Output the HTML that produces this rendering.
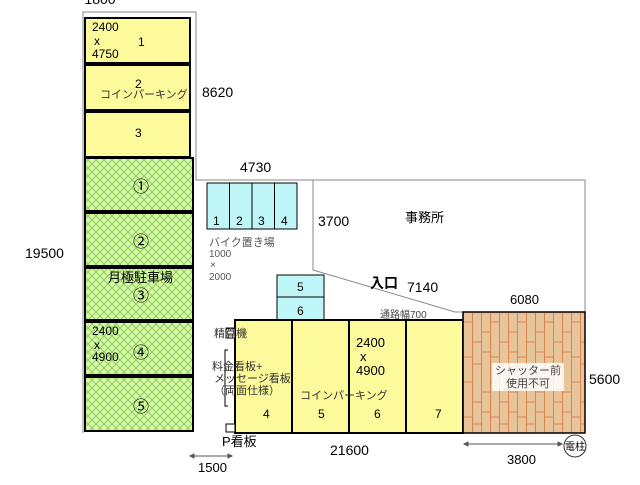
<!DOCTYPE html>
<html><head><meta charset="utf-8"><style>
html,body{margin:0;padding:0;background:#fff}
svg text{font-family:"Liberation Sans","Noto Sans CJK JP",sans-serif}
</style></head><body>
<svg width="640" height="480" viewBox="0 0 640 480" xmlns="http://www.w3.org/2000/svg">
<defs>
<pattern id="hx" width="8" height="8" patternUnits="userSpaceOnUse">
<rect width="8" height="8" fill="#d8f5b0"/>
<path d="M0 0L8 8M8 0L0 8" stroke="#7ccc3a" stroke-width="0.8"/>
</pattern>
<pattern id="wd" width="27" height="60" patternUnits="userSpaceOnUse" x="463" y="312">
<rect width="27" height="60" fill="#e8c49a"/>
<path d="M0.5 0V60M9.5 0V60M18.5 0V60M0 10H9M9 30H18M18 20H27M0 45H9M9 52H18M18 40H27" stroke="#d9743a" stroke-width="0.8"/>
</pattern>
</defs>
<g fill="none" stroke="#888" stroke-width="1">
<path d="M83 433V12H196V180H585V312"/>
<path d="M313 180V270L455 312H463"/>
</g>
<text x="100" y="4" font-size="14" text-anchor="middle">1800</text>
<g stroke="#000" stroke-width="2" fill="#fdfa9c">
<rect x="85" y="18" width="105" height="45"/>
<rect x="85" y="65" width="105" height="45"/>
<rect x="85" y="112" width="105" height="45"/>
</g>
<g stroke="#000" stroke-width="2" fill="url(#hx)">
<rect x="85" y="158" width="108" height="53"/>
<rect x="85" y="213" width="108" height="53"/>
<rect x="85" y="268" width="108" height="52"/>
<rect x="85" y="322" width="108" height="53"/>
<rect x="85" y="377" width="108" height="54"/>
</g>
<g font-size="12" fill="#000">
<text x="92" y="31">2400</text><text x="94" y="45">x</text><text x="92" y="58">4750</text>
<text x="138" y="46">1</text>
<text x="135" y="88">2</text>
<text x="100" y="98" font-size="11" fill="#333">コインパーキング</text>
<text x="135" y="137">3</text>
<g font-size="16" text-anchor="middle">
<text x="141" y="192">①</text>
<text x="141" y="247">②</text>
<text x="141" y="301">③</text>
<text x="141" y="358">④</text>
<text x="141" y="412">⑤</text>
</g>
<text x="108" y="282" font-size="13">月極駐車場</text>
<text x="92" y="335">2400</text><text x="94" y="349">x</text><text x="92" y="361">4900</text>
</g>
<text x="202" y="97" font-size="14">8620</text>
<text x="240" y="172" font-size="14">4730</text>
<text x="25" y="258" font-size="14">19500</text>
<g stroke="#000" stroke-width="1" fill="#bff6f8">
<rect x="207" y="183" width="22.5" height="46"/>
<rect x="229.5" y="183" width="22.5" height="46"/>
<rect x="252" y="183" width="22.5" height="46"/>
<rect x="274.5" y="183" width="22.5" height="46"/>
<rect x="277" y="275" width="47" height="22"/>
<rect x="277" y="297" width="47" height="23"/>
</g>
<g font-size="12"><text x="213" y="225">1</text><text x="236" y="225">2</text><text x="258" y="225">3</text><text x="281" y="225">4</text>
<text x="297" y="291">5</text><text x="297" y="315">6</text></g>
<g font-size="10" fill="#555"><text x="209" y="246" font-size="11">バイク置き場</text><text x="209" y="257">1000</text><text x="210" y="268">×</text><text x="209" y="280">2000</text></g>
<text x="318" y="226" font-size="14">3700</text>
<text x="405" y="222" font-size="13">事務所</text>
<text x="370" y="288" font-size="14" font-weight="bold">入口</text>
<text x="407" y="292" font-size="14">7140</text>
<text x="510" y="304" font-size="13">6080</text>
<text x="380" y="318" font-size="10" fill="#444">通路幅700</text>
<g stroke="#000" stroke-width="2" fill="#fdfa9c">
<rect x="235" y="320" width="57" height="113"/>
<rect x="292" y="320" width="57" height="113"/>
<rect x="349" y="320" width="57" height="113"/>
<rect x="406" y="320" width="57" height="113"/>
</g>
<rect x="463" y="312" width="122" height="121" fill="url(#wd)" stroke="#000" stroke-width="1.5"/>
<rect x="492" y="363" width="72" height="28" fill="#fff" opacity="0.85"/>
<text x="528" y="374" font-size="11" text-anchor="middle" fill="#444">シャッター前</text>
<text x="528" y="387" font-size="11" text-anchor="middle" fill="#444">使用不可</text>
<text x="589" y="384" font-size="14">5600</text>
<g font-size="12">
<text x="356" y="347" font-size="13">2400</text><text x="360" y="361" font-size="13">x</text><text x="356" y="375" font-size="13">4900</text>
<text x="263" y="418">4</text><text x="318" y="418">5</text><text x="374" y="418">6</text><text x="435" y="418">7</text>
<text x="300" y="399" font-size="11" fill="#333">コインパーキング</text>
</g>
<rect x="226" y="328" width="9" height="10" fill="#fff" stroke="#000"/>
<rect x="226" y="424" width="9" height="8" fill="#fff" stroke="#000"/>
<path d="M228 350h-3v56h3" fill="none" stroke="#000"/>
<g font-size="11" fill="#333">
<text x="214" y="337">精算機</text>
<text x="212" y="370">料金看板+</text>
<text x="214" y="382">メッセージ看板</text>
<text x="214" y="394">（両面仕様）</text>
</g>
<text x="222" y="446" font-size="13">P看板</text>
<text x="330" y="455" font-size="14">21600</text>
<g stroke="#555" fill="#555">
<path d="M190 456H232"/><path d="M190 456l4-2v4zM232 456l-4-2v4z"/>
<path d="M464 444H562"/><path d="M464 444l4-2v4zM562 444l-4-2v4z"/>
</g>
<text x="198" y="472" font-size="13">1500</text>
<text x="507" y="464" font-size="13">3800</text>
<circle cx="575" cy="446" r="11" fill="#fff" stroke="#333"/>
<text x="575" y="450" font-size="10" text-anchor="middle">電柱</text>
</svg>
</body></html>
